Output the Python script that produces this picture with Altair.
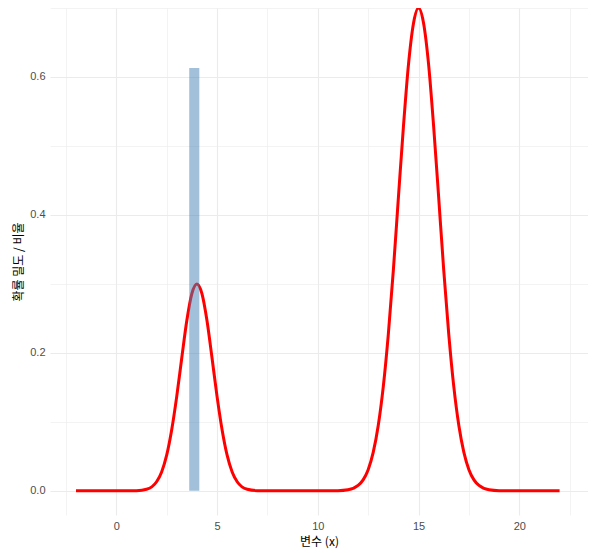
import altair as alt
import pandas as pd

# Curve
x_vals = [-2, -1, 0, 0.5, 1, 1.5, 2, 2.25, 2.5, 2.75, 3, 3.25, 3.5, 3.75, 4,
          4.25, 4.5, 4.75, 5, 5.25, 5.5, 5.75, 6, 6.5, 7, 8, 9, 10, 11, 11.5,
          12, 12.25, 12.5, 12.75, 13, 13.25, 13.5, 13.75, 14, 14.25, 14.5, 14.75, 15,
          15.25, 15.5, 15.75, 16, 16.25, 16.5, 16.75, 17, 17.25, 17.5, 17.75, 18,
          18.5, 19, 20, 21, 22]
y_vals = [0, 0, 0, 0, 0.0003, 0.0023, 0.0132, 0.0274, 0.0517, 0.0886, 0.137, 0.193, 0.247, 0.286, 0.300,
          0.286, 0.247, 0.193, 0.137, 0.0886, 0.0517, 0.0274, 0.0132, 0.0023, 0.0003, 0, 0, 0, 0.0002, 0.0015,
          0.0078, 0.0159, 0.0307, 0.0557, 0.0947, 0.151, 0.227, 0.320, 0.425, 0.528, 0.618, 0.678, 0.700,
          0.678, 0.618, 0.528, 0.425, 0.320, 0.227, 0.151, 0.0947, 0.0557, 0.0307, 0.0159, 0.0078,
          0.0015, 0.0002, 0, 0, 0]

# Bar
bar_left = [3.62]
bar_right = [4.12]
bar_height = [0.613]
bar_base = [0]

x_ticks = [-2.5, 0, 2.5, 5, 7.5, 10, 12.5, 15, 17.5, 20, 22.5]
y_ticks = [0, 0.1, 0.2, 0.3, 0.4, 0.5, 0.6, 0.7]

x_title = "변수 (x)"
y_title = "확률 밀도 / 비율"

line_df = pd.DataFrame({"x": x_vals, "y": y_vals})
bar_df = pd.DataFrame({"x": bar_left, "x2": bar_right, "y": bar_height, "y0": bar_base})

xscale = alt.Scale(domain=[-3.29, 23.41], nice=False, zero=False)
yscale = alt.Scale(domain=[-0.035, 0.7], nice=False, zero=False)

grid_w_x = {"condition": {"test": "datum.value % 5 === 0", "value": 1.1}, "value": 0.6}
grid_w_y = {"condition": {"test": "round(datum.value*10) % 2 === 0", "value": 1.1}, "value": 0.6}

xaxis = alt.Axis(values=x_ticks, grid=True, gridColor="#EBEBEB", gridWidth=grid_w_x,
                 labelExpr="datum.value % 5 === 0 ? format(datum.value, 'd') : ''",
                 ticks=False, tickSize=0, domain=False, labelPadding=5,
                 labelFont="Liberation Sans", labelFontSize=11, labelColor="#4D4D4D",
                 title=x_title, titleFont="Noto Sans CJK KR", titleFontSize=12,
                 titleFontWeight="normal", titleColor="#000000", titlePadding=5)
yaxis = alt.Axis(values=y_ticks, grid=True, gridColor="#EBEBEB", gridWidth=grid_w_y,
                 labelExpr="round(datum.value*10) % 2 === 0 ? format(datum.value, '.1f') : ''",
                 ticks=False, tickSize=0, domain=False, labelPadding=5,
                 labelFont="Liberation Sans", labelFontSize=11, labelColor="#4D4D4D",
                 title=y_title, titleFont="Noto Sans CJK KR", titleFontSize=12,
                 titleFontWeight="normal", titleColor="#000000", titlePadding=4)

line = alt.Chart(line_df).mark_line(color="#FF0000", strokeWidth=3, interpolate="monotone").encode(
    x=alt.X("x:Q", scale=xscale, axis=xaxis),
    y=alt.Y("y:Q", scale=yscale, axis=yaxis),
)

bars = alt.Chart(bar_df).mark_rect(color="#4682B4", opacity=0.5).encode(
    x=alt.X("x:Q", scale=xscale),
    x2="x2:Q",
    y=alt.Y("y:Q", scale=yscale),
    y2="y0:Q",
)

chart = alt.layer(line, bars).properties(
    width=538, height=507,
    background="white",
    autosize=alt.AutoSizeParams(type="none"),
    padding={"left": 42, "top": 0, "right": 0, "bottom": 38},
).configure_view(stroke=None)

chart.save("out.html", embed_options={"renderer": "svg", "actions": False})
